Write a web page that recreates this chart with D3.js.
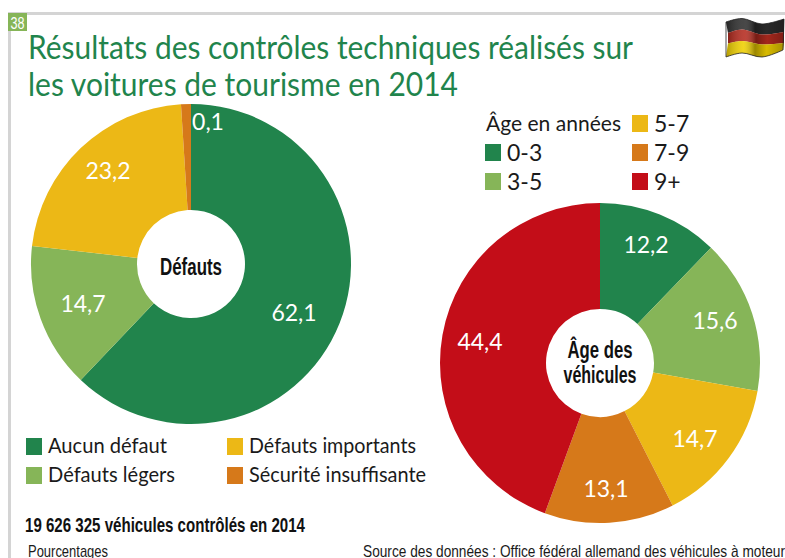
<!DOCTYPE html>
<html><head><meta charset="utf-8">
<script src="https://cdn.jsdelivr.net/npm/d3@7/dist/d3.min.js"></script>
<style>html,body{margin:0;padding:0;background:#fff}svg{display:block}text{font-family:Lato,"Open Sans",sans-serif}</style>
</head><body><svg id="c" width="785" height="558"></svg>
<script>
const titleLines = ["Résultats des contrôles techniques réalisés sur","les voitures de tourisme en 2014"];
const defautCats = ["Aucun défaut","Défauts légers","Défauts importants","Sécurité insuffisante"];
const defautLabels = ["62,1","14,7","23,2","0,1"];
// sector shares as drawn in the picture (the last sector is drawn wider than its label)
const defautShares = [62.1,14.7,22.2,1.0];
const ageCats = ["0-3","3-5","5-7","7-9","9+"];
const ageValues = [12.2,15.6,14.7,13.1,44.4];
const ageLabels = ["12,2","15,6","14,7","13,1","44,4"];
const defautColors = ["#21844c","#86b558","#ecb816","#d6791a"];
const ageColors = ["#21844c","#86b558","#ecb816","#d6791a","#c30d18"];
const flagColors = ["#2e2e2e","#b52b1f","#efcf00"];

const svg = d3.select("#c");
const narrow="'Liberation Sans Narrow','Liberation Sans'";
const txt=(x,y,s,size,opt={})=>{const t=svg.append("text").attr("x",x).attr("y",y).attr("font-size",size)
  .attr("fill",opt.fill||"#1a1a1a").attr("font-weight",opt.weight||300).attr("text-anchor",opt.anchor||"start").text(s);
  if(opt.font)t.style("font-family",opt.font);
  if(opt.w)t.attr("textLength",opt.w).attr("lengthAdjust","spacingAndGlyphs");return t;};

svg.append("rect").attr("x",8).attr("y",12).attr("width",777).attr("height",3).attr("fill","#d4d4d4");
svg.append("rect").attr("x",8).attr("y",12).attr("width",3).attr("height",546).attr("fill","#d4d4d4");
svg.append("rect").attr("x",8).attr("y",13).attr("width",19).attr("height",18).attr("fill","#86b558");
txt(17.5,29,"38",17,{fill:"#fff",anchor:"middle",font:narrow,weight:400,w:14});

titleLines.forEach((l,i)=>txt(28,[59,96][i],l,33,{fill:"#21844c",w:[605,430][i],weight:400}));

function donut(cx,cy,shares,colors,labels,labelPos,center,widths){
  const pie=d3.pie().sort(null).value(d=>d);
  const arc=d3.arc().innerRadius(54).outerRadius(160);
  const g=svg.append("g").attr("transform",`translate(${cx},${cy})`);
  const arcs=pie(shares);
  g.selectAll("path").data(arcs).join("path").attr("d",arc).attr("fill",(d,i)=>colors[i]);
  g.selectAll("text.v").data(arcs).join("text").attr("class","v")
    .attr("x",(d,i)=>labelPos[i][0]).attr("y",(d,i)=>labelPos[i][1])
    .attr("text-anchor","middle").attr("font-size",23).attr("font-weight",400).attr("fill","#fff")
    .text((d,i)=>labels[i]);
  center.forEach((s,i)=>{
    g.append("text").attr("x",0).attr("y",center.length==1?11:(i==0?-5:20)).attr("text-anchor","middle")
     .attr("font-size",23).attr("font-weight",700).attr("fill","#111")
     .attr("textLength",widths[i]).attr("lengthAdjust","spacingAndGlyphs")
     .style("font-family",narrow).text(s);
  });
}
donut(191,264,defautShares,defautColors,defautLabels,[[103,57],[-108,48],[-83,-85],[17,-134]],["Défauts"],[62]);
donut(600,363,ageValues,ageColors,ageLabels,[[46,-110],[115,-34],[95,84],[6,134],[-120,-13]],["Âge des","véhicules"],[65,73]);

const sw=(x,y,c)=>svg.append("rect").attr("x",x).attr("y",y).attr("width",16).attr("height",17).attr("fill",c);
defautCats.forEach((s,i)=>{
  const x=[26,227][i>>1], y=[438,467][i%2];
  sw(x,y,defautColors[i]);
  txt(x+22,y+15,s,21,{w:[[119,127],[167,177]][i>>1][i%2],weight:400});
});
txt(486,131,"Âge en années",21,{w:135,weight:400});
const agePos=[[485,144],[485,173],[632,115],[632,144],[632,173]];
ageCats.forEach((s,i)=>{const [x,y]=agePos[i];sw(x,y,ageColors[i]);txt(x+22,y+17,s,23,{weight:400});});

txt(25,532,"19 626 325 véhicules contrôlés en 2014",21,{fill:"#111",weight:700,font:narrow,w:280});
txt(28,557,"Pourcentages",17,{font:narrow,weight:400,w:80});
txt(363,557,"Source des données : Office fédéral allemand des véhicules à moteur",17,{font:narrow,weight:400,w:422});

// flag: decorative shape, no data
const defs=svg.append("defs");
const grad=defs.append("linearGradient").attr("id","sheen");
[[0,"#000",.25],[.3,"#fff",.12],[.5,"#000",.35],[.7,"#000",.1],[1,"#000",.3]].forEach(s=>grad.append("stop").attr("offset",s[0]).attr("stop-color",s[1]).attr("stop-opacity",s[2]));
const edges=[
 [[726,22],[742,18.5],[762,24],[784,19]],
 [[728,33],[742,29.5],[762,34.5],[784,32]],
 [[728,43.5],[742,41],[762,44.5],[784,43]],
 [[726,57],[742,53],[762,57],[783,50]]];
const wave=d3.line().curve(d3.curveCatmullRom);
[0,1,2].forEach(b=>{
  const poly=wave(edges[b])+"L"+wave(edges[b+1].slice().reverse()).slice(1)+"Z";
  svg.append("path").attr("d",poly).attr("fill",flagColors[b]);
  svg.append("path").attr("d",poly).attr("fill","url(#sheen)");
});
const outline=wave(edges[0])+"L"+wave(edges[3].slice().reverse()).slice(1)+"Z";
svg.append("path").attr("d",outline).attr("fill","none").attr("stroke","#222").attr("stroke-width",.8);
</script></body></html>
